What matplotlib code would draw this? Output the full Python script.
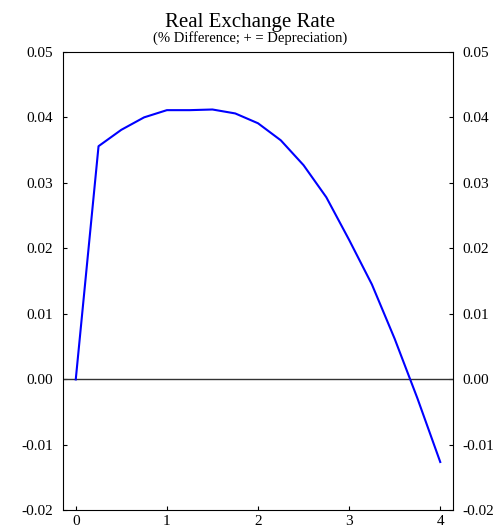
import matplotlib
matplotlib.use("Agg")
import matplotlib.pyplot as plt

# quarterly horizon (years) and real exchange rate response
years = [0, 0.25, 0.5, 0.75, 1, 1.25, 1.5, 1.75, 2, 2.25, 2.5, 2.75, 3, 3.25, 3.5, 3.75, 4]
rer = [0.0, 0.0356, 0.0381, 0.0400, 0.0411, 0.0411, 0.0412, 0.0406, 0.0391,
       0.0365, 0.0327, 0.0278, 0.0213, 0.0145, 0.0062, -0.0029, -0.0126]
xticks = [0, 1, 2, 3, 4]
yticks = [-0.02, -0.01, 0.0, 0.01, 0.02, 0.03, 0.04, 0.05]

plt.rcParams['font.family'] = ['Liberation Serif', 'DejaVu Serif']

fig = plt.figure(figsize=(5, 5.29), dpi=100)
ax = fig.add_axes([0.126, 0.035, 0.78, 0.867])

ax.axhline(0, color='#333333', lw=1)
ax.plot(years, rer, color='blue', lw=1.5)

ax.set_xlim(-0.14, 4.14)
ax.set_ylim(-0.02, 0.05)
ax.set_xticks(xticks)
ax.set_xticklabels([str(t) for t in xticks])
ax.set_yticks(yticks)
ax.set_yticklabels(['%.2f' % t for t in yticks])
ax.tick_params(direction='in', length=3, labelsize=11)
ax.tick_params(axis='y', right=True, labelright=True, pad=7)
ax.tick_params(axis='x', pad=3)

fig.text(0.5, 1 - 27 / 529, 'Real Exchange Rate', ha='center', va='baseline', fontsize=15)
fig.text(0.5, 1 - 42 / 529, '(% Difference; + = Depreciation)', ha='center', va='baseline', fontsize=10.5)

fig.savefig('out.png', dpi=100)
